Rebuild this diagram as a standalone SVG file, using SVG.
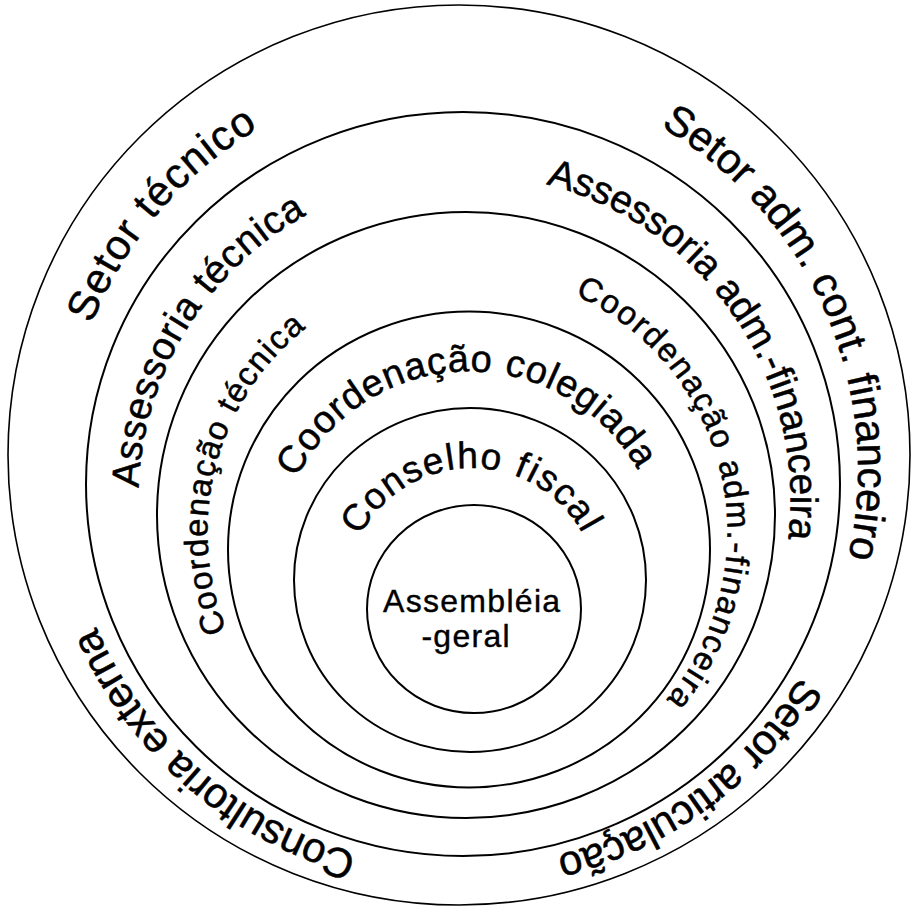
<svg xmlns="http://www.w3.org/2000/svg" width="915" height="908" viewBox="0 0 915 908">
<style>
.ring{fill:none;stroke:#000;stroke-width:2}
.outer{fill:none;stroke:#000;stroke-width:1.6}
.lbl{font-family:"Liberation Sans",Arial,Helvetica,sans-serif;fill:#000;stroke:#000;stroke-width:0.5;dominant-baseline:central}
.big{font-size:42px}
.mid{font-size:39px}
.sm{font-size:33px}
.col{font-size:38px}
.fis{font-size:37px}
.ctr{font-family:"Liberation Sans",Arial,Helvetica,sans-serif;fill:#000;stroke:#000;stroke-width:0.4;font-size:32px;letter-spacing:1.3px;text-anchor:middle}
</style>
<defs>
<path id="p1" d="M78.1,318.0 A412,412 0 0 1 401.2,62.4"/>
<path id="p2" d="M668.6,114.1 A412,412 0 0 1 797.4,707.8"/>
<path id="p3" d="M812.6,684.8 A412,412 0 0 1 414.9,879.4"/>
<path id="p4" d="M352.5,867.5 A412,412 0 0 1 50.4,504.0"/>
<path id="p5" d="M124.8,486.8 A340,340 0 0 1 418.5,163.1"/>
<path id="p6" d="M550.1,170.9 A340,340 0 0 1 760.2,667.8"/>
<path id="p7" d="M215.5,634.5 A272,272 0 0 1 365.0,280.0"/>
<path id="p8" d="M580.0,284.4 A272,272 0 0 1 584.8,777.4"/>
<path id="p9" d="M285.7,471.5 A206,206 0 0 1 673.4,535.3"/>
<path id="p10" d="M349.2,528.9 A139,139 0 0 1 609.9,576.9"/>
</defs>
<rect width="915" height="908" fill="#fff"/>
<g id="connectors"/>
<g id="anel-setores">
<ellipse class="outer" cx="459" cy="455" rx="451" ry="450"/>
<text class="lbl big" letter-spacing="2.09"><textPath href="#p1">Setor técnico</textPath></text>
<text class="lbl big" letter-spacing="0.73"><textPath href="#p2">Setor adm. cont. financeiro</textPath></text>
<text class="lbl big" letter-spacing="0.33"><textPath href="#p3">Setor articulação</textPath></text>
<text class="lbl big" letter-spacing="0.28"><textPath href="#p4">Consultoria externa</textPath></text>
</g>
<g id="anel-assessorias">
<ellipse class="ring" cx="463" cy="484" rx="377" ry="372"/>
<text class="lbl mid" letter-spacing="1.36"><textPath href="#p5">Assessoria técnica</textPath></text>
<text class="lbl mid" letter-spacing="0.69"><textPath href="#p6">Assessoria adm.-financeira</textPath></text>
</g>
<g id="anel-coordenacoes">
<ellipse class="ring" cx="466" cy="515" rx="309" ry="303"/>
<text class="lbl sm" letter-spacing="2.09"><textPath href="#p7">Coordenação técnica</textPath></text>
<text class="lbl sm" letter-spacing="2.55"><textPath href="#p8">Coordenação adm.-financeira</textPath></text>
</g>
<g id="coordenacao-colegiada">
<ellipse class="ring" cx="469" cy="549.5" rx="241" ry="238"/>
<text class="lbl col" letter-spacing="2.12"><textPath href="#p9">Coordenação colegiada</textPath></text>
</g>
<g id="conselho-fiscal">
<ellipse class="ring" cx="470" cy="580" rx="176" ry="172"/>
<text class="lbl fis" letter-spacing="3.39"><textPath href="#p10">Conselho fiscal</textPath></text>
</g>
<g id="assembleia-geral">
<ellipse class="ring" cx="474" cy="609" rx="107" ry="104"/>
<text class="ctr" x="472.2" y="612">Assembléia</text>
<text class="ctr" x="466.2" y="647">-geral</text>
</g>
</svg>
